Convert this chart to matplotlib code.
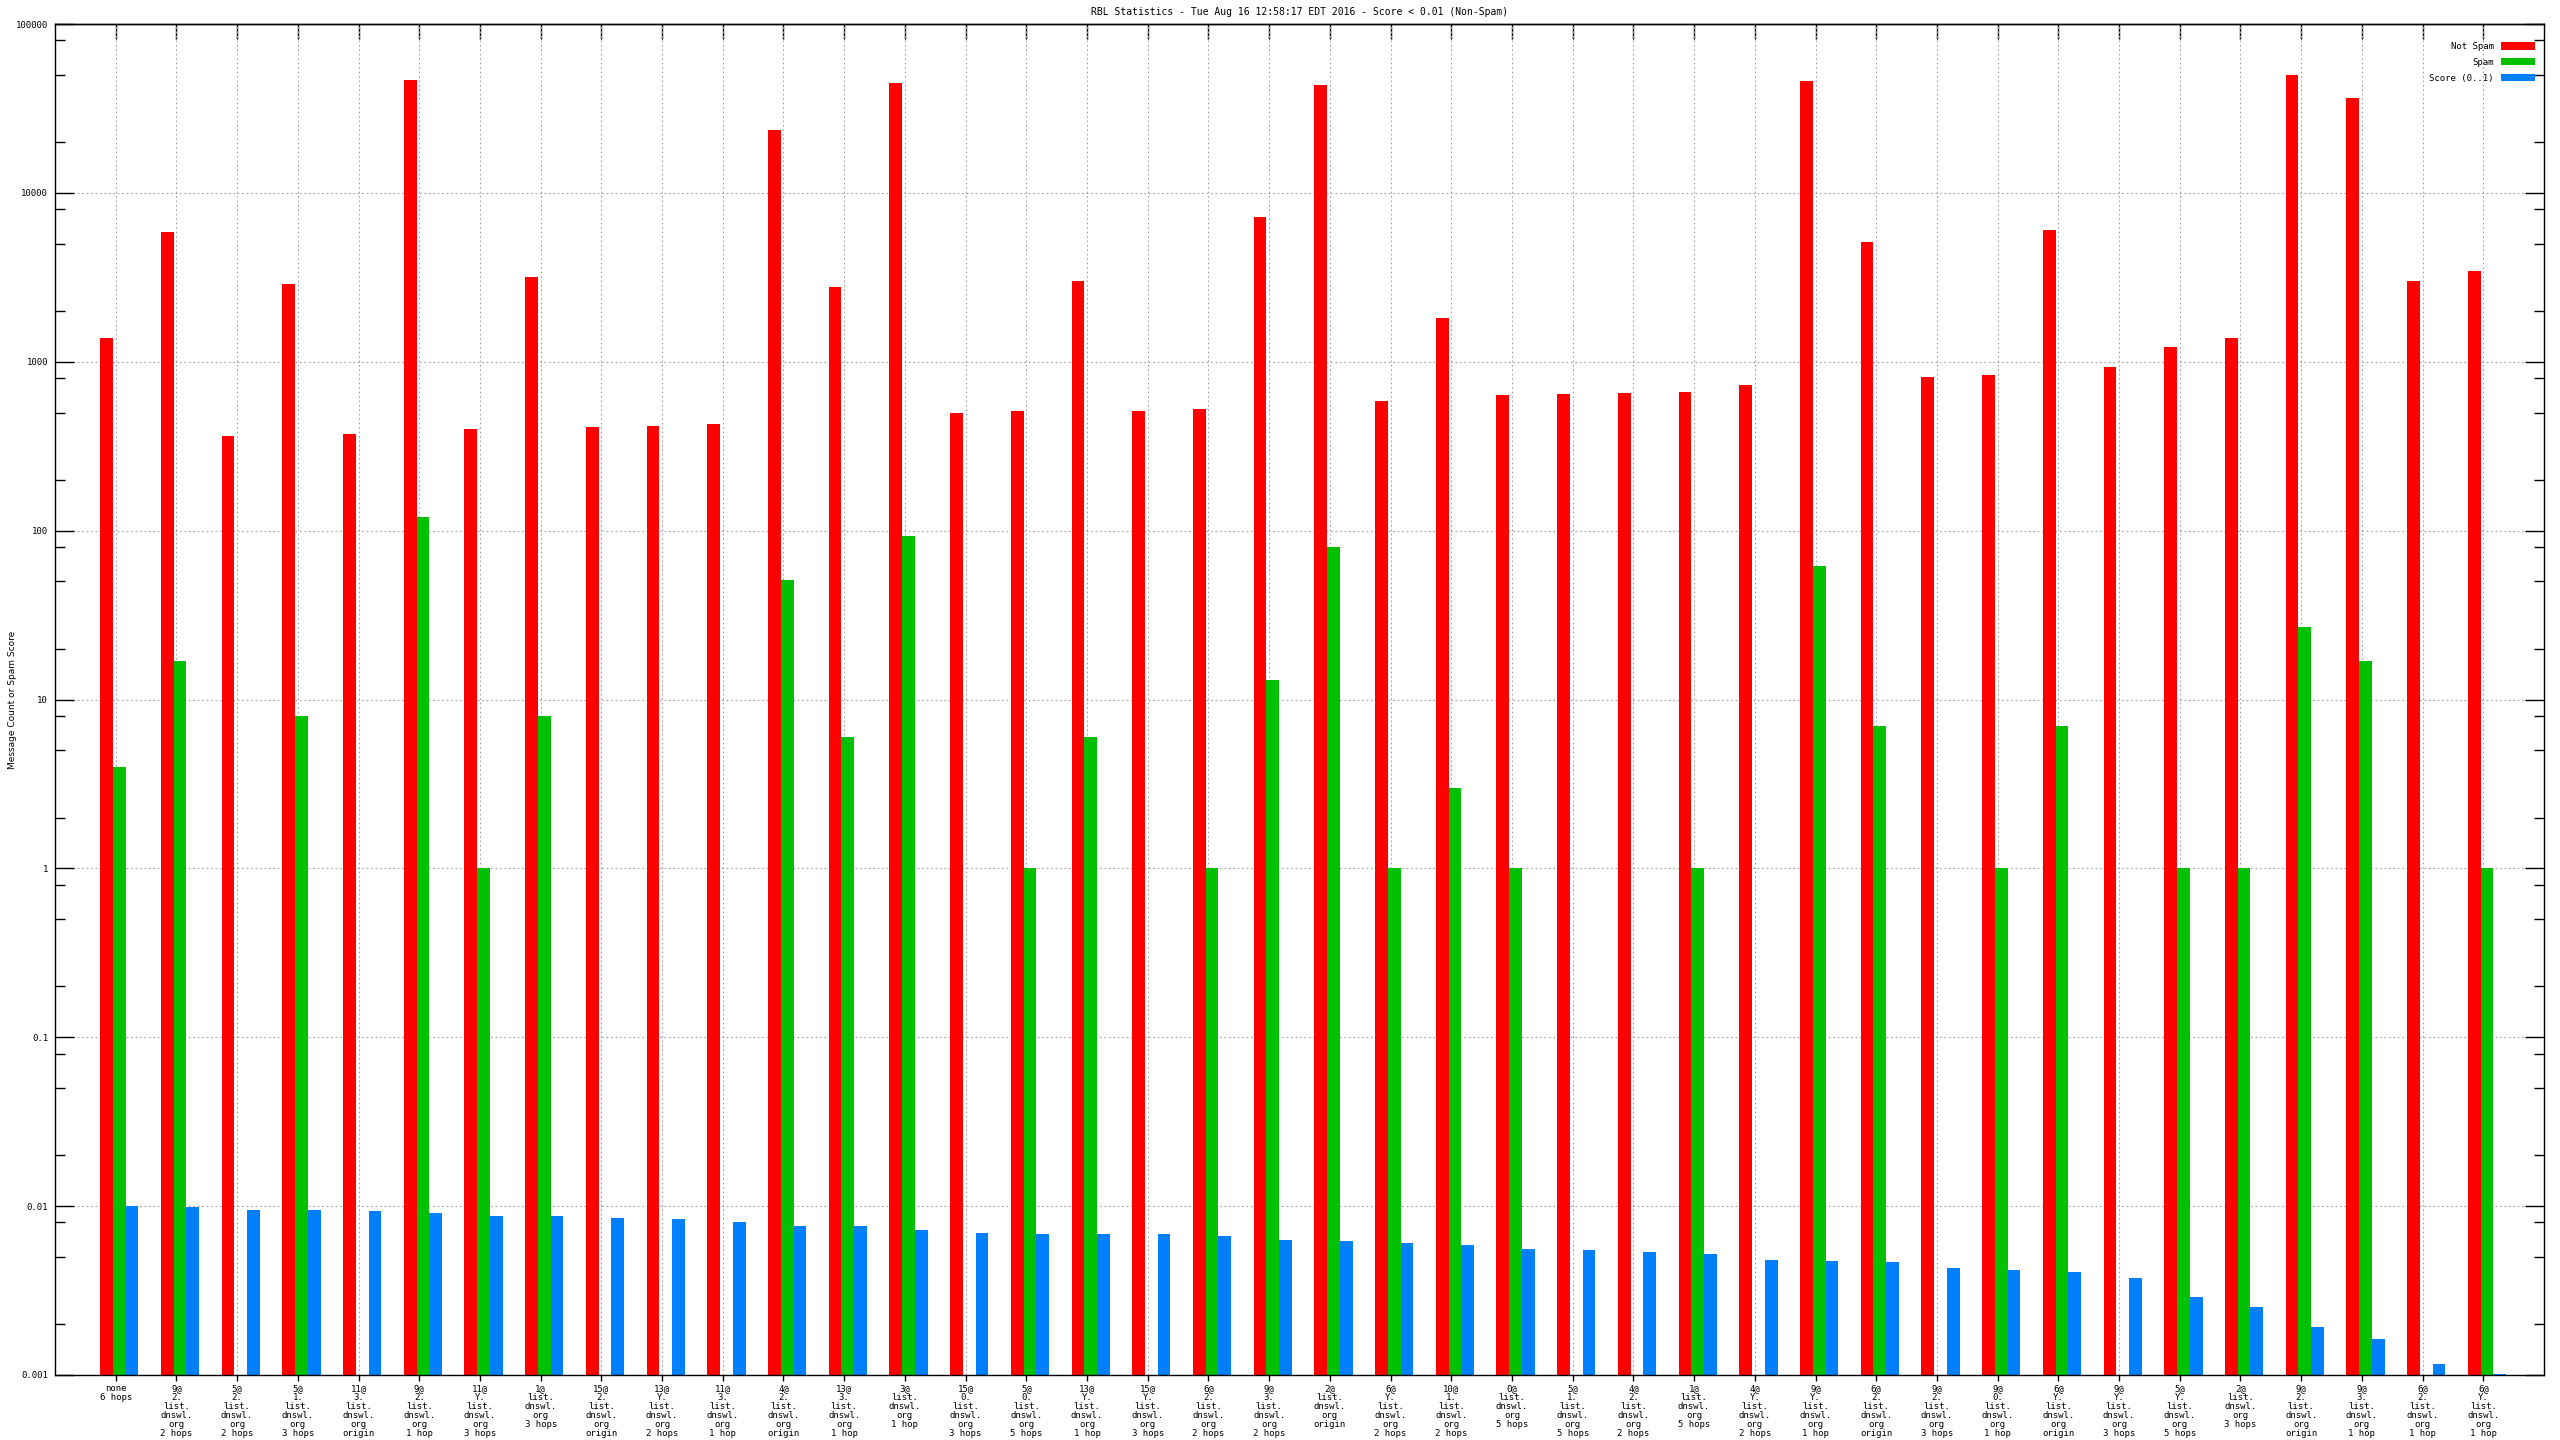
# Statistiques RBL : messages non-spam / spam / score moyen par liste, echelle log
import numpy as np
import matplotlib
matplotlib.use("Agg")
import matplotlib.pyplot as plt
from matplotlib.patches import Patch
from matplotlib.ticker import LogLocator, NullFormatter

# =============================================================================
# Donnees
# =============================================================================

groupes = [
    "none\n6 hops",
    "9@\n2.\nlist.\ndnswl.\norg\n2 hops",
    "5@\n2.\nlist.\ndnswl.\norg\n2 hops",
    "5@\n1.\nlist.\ndnswl.\norg\n3 hops",
    "11@\n3.\nlist.\ndnswl.\norg\norigin",
    "9@\n2.\nlist.\ndnswl.\norg\n1 hop",
    "11@\nY.\nlist.\ndnswl.\norg\n3 hops",
    "1@\nlist.\ndnswl.\norg\n3 hops",
    "15@\n2.\nlist.\ndnswl.\norg\norigin",
    "13@\nY.\nlist.\ndnswl.\norg\n2 hops",
    "11@\n3.\nlist.\ndnswl.\norg\n1 hop",
    "4@\n2.\nlist.\ndnswl.\norg\norigin",
    "13@\n3.\nlist.\ndnswl.\norg\n1 hop",
    "3@\nlist.\ndnswl.\norg\n1 hop",
    "15@\n0.\nlist.\ndnswl.\norg\n3 hops",
    "5@\n0.\nlist.\ndnswl.\norg\n5 hops",
    "13@\nY.\nlist.\ndnswl.\norg\n1 hop",
    "15@\nY.\nlist.\ndnswl.\norg\n3 hops",
    "6@\n2.\nlist.\ndnswl.\norg\n2 hops",
    "9@\n3.\nlist.\ndnswl.\norg\n2 hops",
    "2@\nlist.\ndnswl.\norg\norigin",
    "6@\nY.\nlist.\ndnswl.\norg\n2 hops",
    "10@\n1.\nlist.\ndnswl.\norg\n2 hops",
    "0@\nlist.\ndnswl.\norg\n5 hops",
    "5@\n1.\nlist.\ndnswl.\norg\n5 hops",
    "4@\n2.\nlist.\ndnswl.\norg\n2 hops",
    "1@\nlist.\ndnswl.\norg\n5 hops",
    "4@\nY.\nlist.\ndnswl.\norg\n2 hops",
    "9@\nY.\nlist.\ndnswl.\norg\n1 hop",
    "6@\n2.\nlist.\ndnswl.\norg\norigin",
    "9@\n2.\nlist.\ndnswl.\norg\n3 hops",
    "9@\n0.\nlist.\ndnswl.\norg\n1 hop",
    "6@\nY.\nlist.\ndnswl.\norg\norigin",
    "9@\nY.\nlist.\ndnswl.\norg\n3 hops",
    "5@\nY.\nlist.\ndnswl.\norg\n5 hops",
    "2@\nlist.\ndnswl.\norg\n3 hops",
    "9@\n2.\nlist.\ndnswl.\norg\norigin",
    "9@\n3.\nlist.\ndnswl.\norg\n1 hop",
    "6@\n2.\nlist.\ndnswl.\norg\n1 hop",
    "6@\nY.\nlist.\ndnswl.\norg\n1 hop",
]

not_spam = [1390, 5900, 365, 2900, 374, 46900, 400, 3160, 408, 416,
            426, 23500, 2760, 44800, 500, 510, 3000, 510, 525, 7200,
            43600, 584, 1820, 638, 643, 650, 665, 730, 45900, 5150,
            810, 830, 6000, 930, 1215, 1390, 50000, 36700, 3000, 3460]

spam = [4, 17, 0, 8, 0, 120, 1, 8, 0, 0,
        0, 51, 6, 93, 0, 1, 6, 0, 1, 13,
        80, 1, 3, 1, 0, 0, 1, 0, 62, 7,
        0, 1, 7, 0, 1, 1, 27, 17, 0, 1]

score = [0.0100, 0.00986, 0.00947, 0.00947, 0.00934, 0.00909, 0.00872, 0.00872, 0.00849, 0.00838,
         0.00804, 0.00762, 0.00762, 0.00721, 0.00692, 0.00683, 0.00683, 0.00683, 0.00664, 0.00629,
         0.00621, 0.00604, 0.00588, 0.00557, 0.00550, 0.00535, 0.00520, 0.00479, 0.00473, 0.00466,
         0.00430, 0.00418, 0.00407, 0.00375, 0.00290, 0.00253, 0.00192, 0.00163, 0.00116, 0.00101]

graduations_y = [0.001, 0.01, 0.1, 1, 10, 100, 1000, 10000, 100000]
textes_y = ["0.001", "0.01", "0.1", "1", "10", "100", "1000", "10000", "100000"]

titre = "RBL Statistics - Tue Aug 16 12:58:17 EDT 2016 - Score < 0.01 (Non-Spam)"

# =============================================================================
# Trace
# =============================================================================

plt.rcParams["font.family"] = ["DejaVu Sans Mono", "DejaVu Sans"]

rouge = "#ff0000"
vert = "#00c000"
bleu = "#0080ff"
gris = "#a0a0a0"

fig = plt.figure(figsize=(25.6, 14.4), dpi=100)
ax = fig.add_axes([55 / 2560, 1 - 1375 / 1440, (2544 - 55) / 2560, (1375 - 24) / 1440])

x = np.arange(len(groupes))
largeur = 0.21
ax.bar(x - 0.15, not_spam, largeur, color=rouge, linewidth=0, zorder=2)
ax.bar(x + 0.06, spam, largeur, color=vert, linewidth=0, zorder=2)
ax.bar(x + 0.27, score, largeur, color=bleu, linewidth=0, zorder=2)

ax.set_yscale("log")
ax.set_ylim(0.001, 100000)
ax.set_xlim(-1, len(groupes))

ax.set_xticks(x)
ax.set_xticklabels(groupes, fontsize=6.5, linespacing=1.0)
ax.set_yticks(graduations_y)
ax.set_yticklabels(textes_y, fontsize=6.5)
ax.yaxis.set_minor_locator(LogLocator(base=10, subs=[2, 5, 8]))
ax.yaxis.set_minor_formatter(NullFormatter())

ax.set_axisbelow(True)
ax.tick_params(axis="y", which="both", direction="in", right=True, width=1, color="black")
ax.tick_params(axis="y", which="major", length=14, pad=5)
ax.tick_params(axis="y", which="minor", length=7)
# en bas : petites graduations vers l'exterieur, en haut : vers l'interieur
ax.tick_params(axis="x", which="major", direction="out", length=4, width=1, pad=2.5, top=False)

haut = ax.secondary_xaxis("top")
haut.set_xticks(x)
haut.set_xticklabels([])
haut.tick_params(direction="in", length=11, width=1)

ax.grid(True, which="major", color=gris, linestyle=(0, (1.5, 2.5)), linewidth=0.8)
for cote in ax.spines.values():
    cote.set_linewidth(1)
    cote.set_color("black")
haut.spines["top"].set_linewidth(1)

poignees = [Patch(facecolor=rouge, edgecolor="none"),
            Patch(facecolor=vert, edgecolor="none"),
            Patch(facecolor=bleu, edgecolor="none")]
ax.legend(poignees, ["Not Spam", "Spam", "Score (0..1)"],
          loc="upper right", bbox_to_anchor=(0.9964, 0.9867),
          frameon=False, markerfirst=False, fontsize=6.5,
          handlelength=3.8, handleheight=0.9, handletextpad=0.8,
          labelspacing=0.75, borderaxespad=0, borderpad=0)

fig.text(1300 / 2560, 1 - 12 / 1440, titre, ha="center", va="center", fontsize=7)
fig.text(13 / 2560, 1 - 700 / 1440, "Message Count or Spam Score", rotation=90,
         ha="center", va="center", fontsize=6.5, family="DejaVu Sans")

plt.savefig("out.png", dpi=100)
plt.close(fig)
